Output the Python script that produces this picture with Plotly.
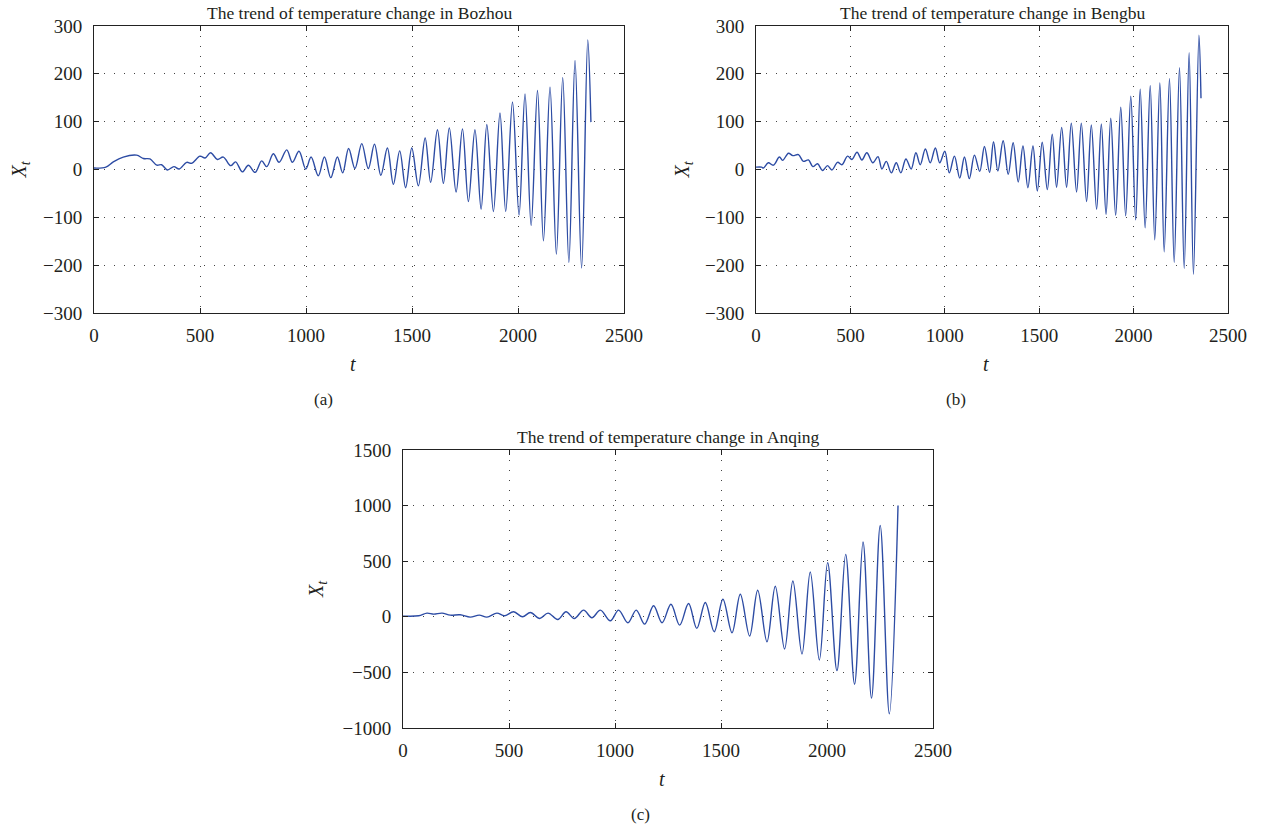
import plotly.graph_objects as go

# ---------------- data (turning points of each curve) ----------------
t_bozhou = [0, 56, 91, 138, 201, 233, 264, 296, 319, 346, 377, 402, 437, 461, 500, 524, 550, 582,
            610, 645, 668, 700, 728, 760, 791, 815, 846, 873, 909, 936, 967, 999, 1024, 1058, 1087,
            1117, 1148, 1173, 1201, 1231, 1263, 1294, 1323, 1353, 1384, 1412, 1442, 1470, 1499,
            1530, 1562, 1588, 1620, 1648, 1676, 1708, 1738, 1766, 1797, 1826, 1853, 1884, 1915,
            1942, 1974, 2005, 2033, 2062, 2092, 2120, 2151, 2181, 2211, 2240, 2269, 2300, 2329, 2344]
x_bozhou = [3, 5, 16, 26, 30, 23, 22, 9, 10, -1, 6, 1, 15, 13, 28, 24, 35, 21,
            26, 8, 16, -5, 9, -6, 18, 6, 33, 15, 41, 15, 38, 1, 26, -13, 26,
            -17, 26, -7, 44, 2, 54, 2, 53, -12, 45, -31, 39, -38, 45,
            -34, 66, -27, 83, -29, 87, -47, 85, -67, 83, -83, 94, -88, 118,
            -88, 141, -95, 158, -117, 165, -149, 172, -177, 192, -194, 228, -206, 271, 99]

t_bengbu = [0, 30, 39, 65, 92, 124, 141, 172, 195, 225, 251, 278, 301, 326, 352, 379, 402, 432,
            455, 485, 508, 535, 561, 587, 619, 646, 667, 690, 717, 743, 767, 794, 822, 847, 870,
            897, 923, 950, 973, 1000, 1024, 1051, 1079, 1104, 1130, 1157, 1185, 1210, 1237, 1258,
            1281, 1309, 1336, 1362, 1389, 1414, 1440, 1467, 1490, 1516, 1543, 1569, 1592, 1619,
            1645, 1670, 1698, 1723, 1751, 1776, 1804, 1829, 1854, 1879, 1905, 1932, 1958, 1985,
            2011, 2035, 2061, 2088, 2112, 2139, 2162, 2190, 2215, 2243, 2268, 2294, 2317, 2346, 2357]
x_bengbu = [5, 5, 3, 14, 9, 26, 19, 34, 29, 31, 17, 20, 6, 12, -2, 8, -1, 15,
            10, 28, 21, 36, 20, 35, 14, 27, 1, 17, -7, 14, -7, 22, 1, 35, 10,
            43, 14, 45, 14, 38, -7, 28, -18, 26, -19, 30, -4, 48, -6, 58,
            -3, 60, -10, 56, -26, 49, -38, 49, -45, 57, -42, 74, -37, 88,
            -37, 97, -47, 97, -67, 93, -83, 95, -94, 107, -96, 130, -97, 153,
            -105, 168, -122, 175, -147, 181, -172, 190, -194, 213, -207, 244, -219, 281, 149]

t_anqing = [0, 74, 113, 145, 184, 223, 270, 317, 360, 396, 443, 478, 522, 564, 601, 645, 684,
            730, 769, 808, 852, 891, 931, 978, 1017, 1061, 1100, 1140, 1182, 1222, 1264, 1305,
            1347, 1386, 1426, 1468, 1509, 1552, 1591, 1635, 1673, 1717, 1756, 1800, 1839, 1882,
            1921, 1964, 2003, 2047, 2088, 2130, 2170, 2210, 2251, 2294, 2335]
x_anqing = [6, 9, 33, 24, 33, 15, 18, -3, 15, -3, 33, 9, 45, 0, 39, -15, 33,
            -24, 45, -15, 60, -9, 60, -36, 60, -54, 60, -66, 99, -54, 113, -75,
            119, -104, 128, -134, 158, -143, 203, -173, 239, -224, 275, -290, 322, -334,
            403, -388, 487, -484, 561, -606, 672, -731, 821, -872, 1000]

x_ticks = [0, 500, 1000, 1500, 2000, 2500]
x_ticklabels = ["0", "500", "1000", "1500", "2000", "2500"]
y_ticks_ab = [-300, -200, -100, 0, 100, 200, 300]
y_ticklabels_ab = ["\u2212300", "\u2212200", "\u2212100", "0", "100", "200", "300"]
y_ticks_c = [-1000, -500, 0, 500, 1000, 1500]
y_ticklabels_c = ["\u22121000", "\u2212500", "0", "500", "1000", "1500"]

titles = ["The trend of temperature change in Bozhou",
          "The trend of temperature change in Bengbu",
          "The trend of temperature change in Anqing"]
panel_labels = ["(a)", "(b)", "(c)"]

# ---------------- figure ----------------
W, H = 1266, 829
FONT = "Liberation Serif"
TXT = "#231f20"
LINE = "#2d4ca4"

fig = go.Figure()
series = [(t_bozhou, x_bozhou, "x", "y"), (t_bengbu, x_bengbu, "x2", "y2"), (t_anqing, x_anqing, "x3", "y3")]
for tt, vv, xa, ya in series:
    fig.add_trace(go.Scatter(x=tt, y=vv, xaxis=xa, yaxis=ya, mode="lines",
                             line=dict(color=LINE, width=1.4, shape="spline", smoothing=1.0),
                             showlegend=False, hoverinfo="skip"))

def px_x(p):
    return p / W

def px_y(p):
    return 1 - p / H

domains = [
    ((94, 624), (26, 313)),
    ((756, 1228), (26, 313)),
    ((403, 933), (450, 728)),
]
ylabel_off = [74, 73, 86]

axcommon = dict(showline=True, linecolor="#222", linewidth=1, mirror="ticks",
                ticks="inside", ticklen=5, tickcolor="#222", zeroline=False, automargin=False,
                showgrid=True, gridcolor="#444444", gridwidth=1, griddash="1px,9px",
                tickfont=dict(family=FONT, size=19, color=TXT))

names = [("xaxis", "yaxis"), ("xaxis2", "yaxis2"), ("xaxis3", "yaxis3")]
anchors = [("y", "x"), ("y2", "x2"), ("y3", "x3")]
for i, ((xd, yd), (xn, yn), (xa_anchor, ya_anchor)) in enumerate(zip(domains, names, anchors)):
    yt = y_ticks_c if i == 2 else y_ticks_ab
    ytl = y_ticklabels_c if i == 2 else y_ticklabels_ab
    yr = [-1000, 1500] if i == 2 else [-300, 300]
    fig.update_layout(**{
        xn: dict(axcommon, domain=[px_x(xd[0]), px_x(xd[1])], anchor=xa_anchor, range=[0, 2500],
                 tickvals=x_ticks, ticktext=x_ticklabels, ticklabelstandoff=5),
        yn: dict(axcommon, domain=[px_y(yd[1]), px_y(yd[0])], anchor=ya_anchor, range=yr,
                 tickvals=yt, ticktext=ytl, ticklabelstandoff=7),
    })
    cx = (xd[0] + xd[1]) / 2
    fig.add_annotation(text=titles[i], x=px_x(cx), y=px_y(yd[0] - 1), xref="paper", yref="paper",
                       xanchor="center", yanchor="bottom", showarrow=False,
                       font=dict(family=FONT, size=17.5, color=TXT))
    fig.add_annotation(text="<i>t</i>", x=px_x(cx - 6), y=px_y(yd[1] + 51), xref="paper", yref="paper",
                       xanchor="center", yanchor="middle", showarrow=False,
                       font=dict(family=FONT, size=20, color=TXT))
    fig.add_annotation(text="<i>X</i><sub><i>t</i></sub>", x=px_x(xd[0] - ylabel_off[i]),
                       y=px_y((yd[0] + yd[1]) / 2), xref="paper", yref="paper",
                       xanchor="center", yanchor="middle", showarrow=False, textangle=-90,
                       font=dict(family=FONT, size=20, color=TXT))
    fig.add_annotation(text=panel_labels[i], x=px_x(cx - 36 if i < 2 else cx - 28),
                       y=px_y(yd[1] + 86), xref="paper",
                       yref="paper", xanchor="center", yanchor="middle", showarrow=False,
                       font=dict(family=FONT, size=17, color=TXT))

fig.update_layout(width=W, height=H, margin=dict(l=0, r=0, t=0, b=0),
                  paper_bgcolor="white", plot_bgcolor="white", font=dict(family=FONT, color=TXT))

fig.write_html("out.html", config={"displayModeBar": False},
               post_script="document.body.style.margin='0px';")
